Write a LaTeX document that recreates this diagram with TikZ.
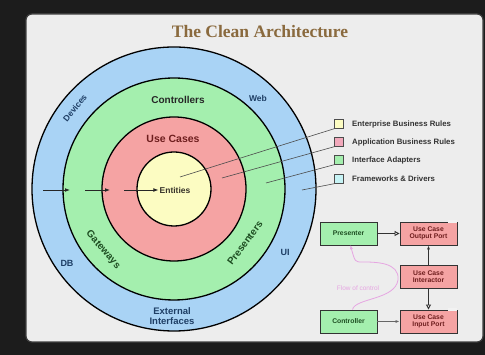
\documentclass[tikz,border=0pt]{standalone}
\usepackage{fontspec}
\setmainfont{Liberation Serif}
\setsansfont{Liberation Sans}
\usetikzlibrary{arrows.meta}
\definecolor{bgdark}{HTML}{1C1C1C}
\definecolor{panel}{HTML}{EDEDED}
\definecolor{ringblue}{HTML}{A9D3F5}
\definecolor{ringgreen}{HTML}{A4EFAE}
\definecolor{ringred}{HTML}{F5A3A3}
\definecolor{ringyellow}{HTML}{FCFCC2}
\definecolor{legcyan}{HTML}{C6F3F5}
\definecolor{legpink}{HTML}{F2A9BC}
\definecolor{txtblue}{HTML}{1F3F66}
\definecolor{txtgreen}{HTML}{1E4E22}
\definecolor{txtred}{HTML}{6E1E1E}
\definecolor{titlebrown}{HTML}{8A6A3E}
\definecolor{flowpink}{HTML}{E6A6E2}
\tikzset{
	ring/.style={draw=black,line width=1.3pt,fill=#1},
	lbl/.style 2 args={font=\sffamily\bfseries\fontsize{#1}{#1}\selectfont,text=#2,inner sep=0pt},
	lgsq/.style={draw=gray!60!black,fill=#1,minimum size=9pt,inner sep=0pt},
	lgtext/.style={font=\sffamily\bfseries\fontsize{7.8}{7.8}\selectfont,text=black!80,anchor=west,inner sep=0pt},
	ucbox/.style 2 args={draw=black!80,line width=0.9pt,fill=#1,text=#2,minimum width=57pt,minimum height=23pt,inner sep=1pt,align=center,font=\sffamily\bfseries\fontsize{6.8}{7.5}\selectfont}
}
\begin{document}
\begin{tikzpicture}[x=1pt,y=1pt]
	\fill[bgdark] (0,0) rectangle (485,355);
	\useasboundingbox (0,0) rectangle (485,355);
	\draw[draw=black!75,line width=1.2pt,fill=panel,rounded corners=6pt] (26,13) rectangle (483,341);
	\node [font=\bfseries\fontsize{17.5}{17.5}\selectfont,text=titlebrown] (title) at (260,323) {The Clean Architecture};

	% rings
	\coordinate (ctr) at (174,166);
	\draw[ring=ringblue] (ctr) circle (142);
	\draw[ring=ringgreen] (ctr) circle (111);
	\draw[ring=ringred] (ctr) circle (72);
	\draw[ring=ringyellow] (ctr) circle (37);

	\node [lbl={8.5}{txtblue},rotate=51] (devices) at (75,247) {Devices};
	\node [lbl={8.5}{txtblue}] (web) at (258,257) {Web};
	\node [lbl={9}{txtblue}] (db) at (67,92) {DB};
	\node [lbl={9}{txtblue}] (ui) at (285,103) {UI};
	\node [lbl={9.5}{txtblue},align=center] (ext) at (172,39) {External\\[1pt]Interfaces};
	\node [lbl={10}{black!85}] (ctrls) at (178,255) {Controllers};
	\node [lbl={10}{txtgreen},rotate=-49] (gw) at (103,105) {Gateways};
	\node [lbl={10}{txtgreen},rotate=53] (pres) at (245,112) {Presenters};
	\node [lbl={10.5}{txtred}] (uc) at (173,216) {Use Cases};
	\node [lbl={8.5}{black!80!olive}] (ent) at (175,165) {Entities};

	% dependency arrows
	\coordinate (a1) at (43,165);
	\coordinate (a2) at (70,165);
	\coordinate (a3) at (85,165);
	\coordinate (a4) at (110,165);
	\coordinate (a5) at (124,165);
	\draw[-{Latex[length=5pt]},black!85,line width=0.8pt] (a1) -- (a2);
	\draw[-{Latex[length=5pt]},black!85,line width=0.8pt] (a3) -- (a4);
	\draw[-{Latex[length=5pt]},black!85,line width=0.8pt] (a5) -- ([xshift=-1pt]ent.west);

	% legend
	\node [lgsq=ringyellow] (lg1) at (339,231) {};
	\node [lgsq=legpink] (lg2) at (339,213) {};
	\node [lgsq=ringgreen] (lg3) at (339,195) {};
	\node [lgsq=legcyan] (lg4) at (339,176) {};
	\node [lgtext] (lt1) at (352,231) {Enterprise Business Rules};
	\node [lgtext] (lt2) at (352,213) {Application Business Rules};
	\node [lgtext] (lt3) at (352,195) {Interface Adapters};
	\node [lgtext] (lt4) at (352,176) {Frameworks \& Drivers};
	\coordinate (e1) at (180,178);
	\coordinate (e2) at (222,177);
	\coordinate (e3) at (266,172);
	\coordinate (e4) at (302,165);
	\draw[black!70,line width=0.6pt] (lg1.south west) -- (e1);
	\draw[black!70,line width=0.6pt] (lg2.south west) -- (e2);
	\draw[black!70,line width=0.6pt] (lg3.south west) -- (e3);
	\draw[black!70,line width=0.6pt] (lg4.south west) -- (e4);

	% use case flow
	\node [ucbox={ringgreen}{txtgreen}] (presenter) at (348.5,121.5) {Presenter};
	\node [ucbox={ringred}{txtred}] (outport) at (428.5,121.5) {Use Case\\Output Port};
	\node [ucbox={ringred}{txtred}] (interactor) at (428.5,78.5) {Use Case\\Interactor};
	\node [ucbox={ringgreen}{txtgreen}] (controller) at (348.5,33.5) {Controller};
	\node [ucbox={ringred}{txtred}] (inport) at (428.5,33.5) {Use Case\\Input Port};
	\fill[white!90!gray] ([xshift=-9pt,yshift=-1pt]outport.north east) rectangle ([yshift=2pt]outport.north east);
	\fill[white!90!gray] ([xshift=-9pt,yshift=-1pt]inport.north east) rectangle ([yshift=2pt]inport.north east);
	\draw[-{Triangle[open,length=5pt,width=5pt]},black!80,line width=0.9pt] (presenter) -- (outport);
	\draw[-{Latex[length=4pt]},black!80,line width=0.9pt] (interactor) -- (outport);
	\draw[-{Triangle[open,length=5pt,width=5pt]},black!80,line width=0.9pt] (interactor) -- (inport);
	\draw[-{Latex[length=4pt]},black!60,line width=1.2pt] (controller) -- (inport);

	\draw[-{Stealth[length=4pt]},flowpink,line width=0.8pt] ([xshift=4pt]controller.north) .. controls (355,57) and (395,55) .. (398,75) .. controls (400,93) and (375,93) .. (362,93) .. controls (355,93) .. ([xshift=2pt]presenter.south);
	\node [font=\sffamily\fontsize{6.5}{6.5}\selectfont,text=flowpink,inner sep=0pt] (flow) at (358,67) {Flow of control};
\end{tikzpicture}
\end{document}
